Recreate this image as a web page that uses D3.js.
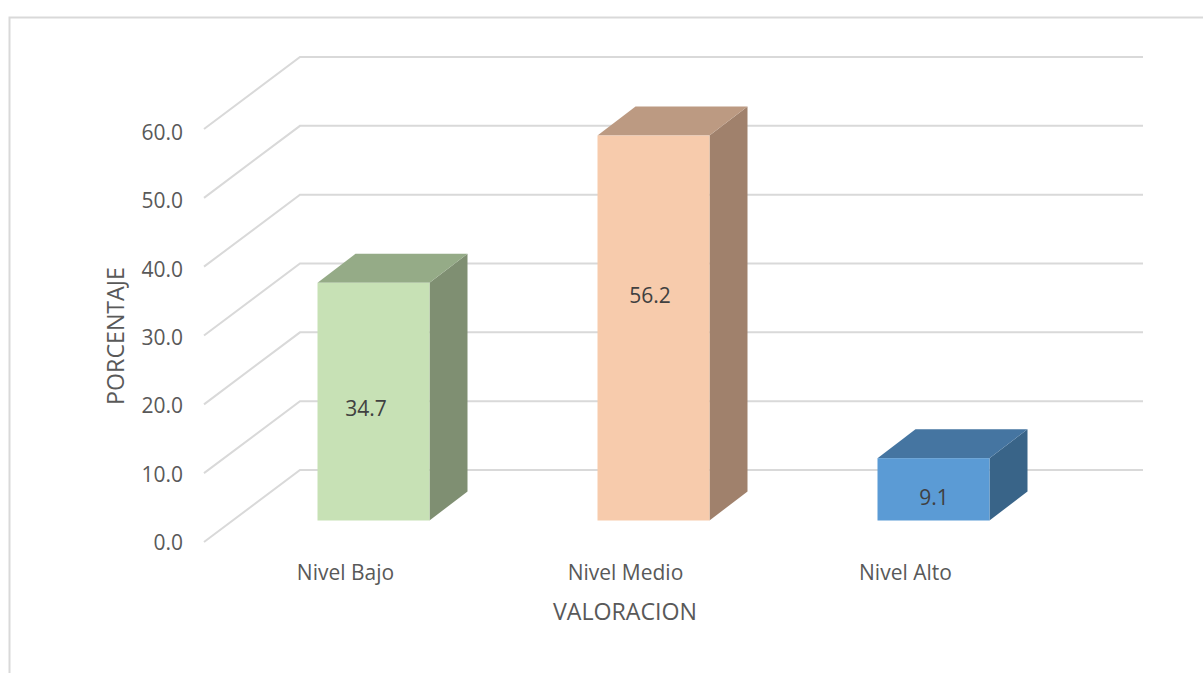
<!DOCTYPE html>
<html>
<head>
<meta charset="utf-8">
<script src="https://cdn.jsdelivr.net/npm/d3@7/dist/d3.min.js"></script>
<style>
html, body { margin: 0; padding: 0; background: #fff; }
text { font-family: "Open Sans", Lato, sans-serif; }
</style>
</head>
<body>
<script>
// Survey results by level, in percent
const categories = ["Nivel Bajo", "Nivel Medio", "Nivel Alto"];
const values = [34.7, 56.2, 9.1];
const frontColors = ["#c7e1b5", "#f7cbac", "#5b9bd5"];
const topColors = ["#95ab87", "#bc9a82", "#4575a1"];
const sideColors = ["#7f8f72", "#a0816c", "#396488"];
const yTicks = [0, 10, 20, 30, 40, 50, 60];
const yLabel = "PORCENTAJE";
const xLabel = "VALORACION";
// Hand-placed data label nudges, as laid out in the chart
const labelNudgeX = [-7.5, -3.5, 0.5];
const labelNudgeY = [14, -25, 16];

const width = 1203, height = 673;
const fontSize = 21;
const titleSize = 23.2;

const svg = d3.select("body").append("svg")
  .attr("width", width).attr("height", height)
  .style("display", "block");

// Chart frame
svg.append("path")
  .attr("d", "M1203,17.5H9.5V673")
  .attr("fill", "none").attr("stroke", "#d9d9d9").attr("stroke-width", 2);

// Back wall scale and the oblique projection of the floor
const y = d3.scaleLinear().domain([0, 60]).range([470, 57]);
const tickY = d3.scaleLinear().domain([0, 60]).range([550, 140]);
const wall = { left: 300, right: 1143 };
const floorDx = 96, floorDy = 72;

const gridGroup = svg.append("g")
  .attr("fill", "none").attr("stroke", "#d9d9d9").attr("stroke-width", 2);
gridGroup.selectAll("polyline").data(yTicks).join("polyline")
  .attr("points", d => [
    [wall.left - floorDx, y(d) + floorDy],
    [wall.left, y(d)],
    [wall.right, y(d)]
  ].join(" "));

// Tick labels on the front edge
svg.append("g").selectAll("text").data(yTicks).join("text")
  .attr("x", 183)
  .attr("y", d => tickY(d))
  .attr("text-anchor", "end")
  .attr("font-size", fontSize)
  .attr("fill", "#595959")
  .text(d => d3.format(".1f")(d));

// Bars as oblique boxes standing partway into the floor
const x = d3.scaleBand().domain(categories).range([233.5, 1073.5]).paddingInner(0.6).paddingOuter(0.3);
const barBase = 520.5, depthX = 38, depthY = 29;
const barY = d3.scaleLinear().domain([0, 60]).range([barBase, barBase - 411]);
const bars = svg.append("g").selectAll("g").data(categories).join("g");

bars.each(function (c, i) {
  const g = d3.select(this);
  const v = values[i];
  const x0 = x(c), x1 = x0 + x.bandwidth();
  const top = barY(v);
  g.append("polygon").attr("fill", sideColors[i]).attr("points", [
    [x1, barBase], [x1 + depthX, barBase - depthY], [x1 + depthX, top - depthY], [x1, top]
  ].join(" "));
  g.append("polygon").attr("fill", topColors[i]).attr("points", [
    [x0, top], [x0 + depthX, top - depthY], [x1 + depthX, top - depthY], [x1, top]
  ].join(" "));
  g.append("rect").attr("fill", frontColors[i])
    .attr("x", x0).attr("y", top).attr("width", x1 - x0).attr("height", barBase - top);
  g.append("text")
    .attr("x", (x0 + x1) / 2 + labelNudgeX[i])
    .attr("y", (barBase + top) / 2 + labelNudgeY[i])
    .attr("text-anchor", "middle").attr("font-size", fontSize).attr("fill", "#404040")
    .text(d3.format(".1f")(v));
});

// Category labels
const catX = [345.5, 625.5, 905.5];
svg.append("g").selectAll("text").data(categories).join("text")
  .attr("x", (d, i) => catX[i]).attr("y", 580)
  .attr("text-anchor", "middle").attr("font-size", fontSize).attr("fill", "#595959")
  .text(d => d);

// Axis titles
svg.append("text")
  .attr("x", 625).attr("y", 620).attr("text-anchor", "middle")
  .attr("font-size", titleSize).attr("fill", "#595959").text(xLabel);
svg.append("text")
  .attr("transform", "translate(124,336) rotate(-90)").attr("text-anchor", "middle")
  .attr("font-size", titleSize).attr("fill", "#595959").text(yLabel);
</script>
</body>
</html>
